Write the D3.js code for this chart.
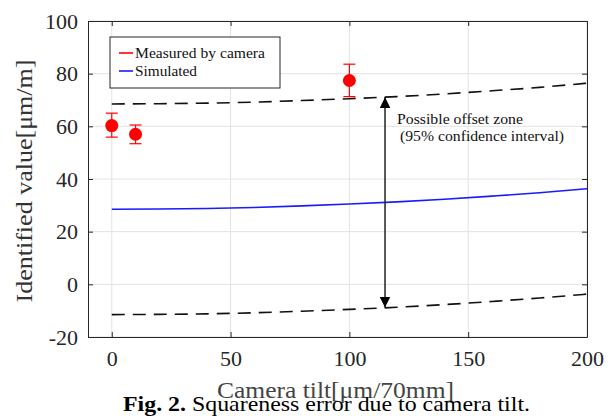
<!DOCTYPE html>
<html>
<head>
<meta charset="utf-8">
<script src="https://d3js.org/d3.v7.min.js"></script>
<style>
  body { margin: 0; background: #fff; }
  svg text { font-family: "Liberation Serif", "Times New Roman", Times, "DejaVu Serif", serif !important; }
</style>
</head>
<body>
<div id="chart"></div>
<script>
// measured points (camera)
var measTilt = [0, 10, 100];
var measVal = [60.3, 57.0, 77.4];
var measLo = [55.9, 53.4, 71.3];
var measHi = [65.0, 60.5, 83.6];

// simulated curve and 95% bounds
var simTilt = [0, 20, 40, 60, 80, 100, 120, 140, 160, 180, 200];
var simVal = [28.5, 28.6, 28.8, 29.2, 29.8, 30.5, 31.3, 32.3, 33.5, 34.8, 36.3];
var upperVal = [68.5, 68.6, 68.8, 69.2, 69.8, 70.5, 71.3, 72.3, 73.5, 74.8, 76.4];
var lowerVal = [-11.5, -11.4, -11.2, -10.8, -10.2, -9.5, -8.7, -7.7, -6.5, -5.2, -3.7];

var xTicks = [0, 50, 100, 150, 200];
var yTicks = [-20, 0, 20, 40, 60, 80, 100];

var arrowTilt = 115;
var arrowTop = 71.0, arrowBottom = -8.8;

var W = 614, H = 416;
var margin = {top: 21, right: 27, bottom: 79, left: 88};
var width = W - margin.left - margin.right,
    height = H - margin.top - margin.bottom;

var svg = d3.select("#chart").append("svg")
    .attr("width", W).attr("height", H);

var defs = svg.append("defs");
defs.append("marker").attr("id", "ah")
    .attr("viewBox", "0 0 10 10").attr("refX", 10).attr("refY", 5)
    .attr("markerWidth", 11).attr("markerHeight", 11)
    .attr("markerUnits", "userSpaceOnUse")
    .attr("orient", "auto-start-reverse")
  .append("path").attr("d", "M0,0L10,5L0,10Z").attr("fill", "#000");

var g = svg.append("g")
    .attr("transform", "translate(" + margin.left + "," + margin.top + ")");

var x = d3.scaleLinear().domain([-10, 200]).range([0, width]);
var y = d3.scaleLinear().domain([-20, 100]).range([height, 0]);

// grid
g.append("g").selectAll("line").data(xTicks).enter().append("line")
    .attr("x1", d => x(d)).attr("x2", d => x(d))
    .attr("y1", 0).attr("y2", height)
    .attr("stroke", "#e3e3e3").attr("stroke-width", 1);
g.append("g").selectAll("line").data(yTicks).enter().append("line")
    .attr("x1", 0).attr("x2", width)
    .attr("y1", d => y(d)).attr("y2", d => y(d))
    .attr("stroke", "#e3e3e3").attr("stroke-width", 1);

// axes (ticks inward, box)
var fmt = d => String(d);
function styleAxis(sel) {
    sel.attr("font-family", null);
    sel.select(".domain").attr("stroke", "#262626");
    sel.selectAll(".tick line").attr("stroke", "#262626");
    sel.selectAll(".tick text")
        .attr("fill", "#262626")
        .style("font-size", "22px");
}
var xAxis = g.append("g").attr("transform", "translate(0," + height + ")")
    .call(d3.axisBottom(x).tickValues(xTicks).tickFormat(fmt).tickSizeInner(-5).tickSizeOuter(0).tickPadding(13));
styleAxis(xAxis);
var yAxis = g.append("g")
    .call(d3.axisLeft(y).tickValues(yTicks).tickFormat(fmt).tickSizeInner(-5).tickSizeOuter(0).tickPadding(10));
styleAxis(yAxis);
var xTop = g.append("g")
    .call(d3.axisTop(x).tickValues(xTicks).tickSizeInner(-5).tickSizeOuter(0).tickFormat(""));
styleAxis(xTop);
var yRight = g.append("g").attr("transform", "translate(" + width + ",0)")
    .call(d3.axisRight(y).tickValues(yTicks).tickSizeInner(-5).tickSizeOuter(0).tickFormat(""));
styleAxis(yRight);

// lines
var line = d3.line().x(d => x(d[0])).y(d => y(d[1])).curve(d3.curveMonotoneX);
g.append("path").datum(simTilt.map((t, i) => [t, upperVal[i]]))
    .attr("d", line).attr("fill", "none").attr("stroke", "#111")
    .attr("stroke-width", 1.6).attr("stroke-dasharray", "13,8");
g.append("path").datum(simTilt.map((t, i) => [t, lowerVal[i]]))
    .attr("d", line).attr("fill", "none").attr("stroke", "#111")
    .attr("stroke-width", 1.6).attr("stroke-dasharray", "13,8");
g.append("path").datum(simTilt.map((t, i) => [t, simVal[i]]))
    .attr("d", line).attr("fill", "none").attr("stroke", "#1a1aff")
    .attr("stroke-width", 1.6);

// measured points with error bars
var pts = measTilt.map((t, i) => ({t: t, v: measVal[i], lo: measLo[i], hi: measHi[i]}));
var pg = g.append("g").selectAll("g").data(pts).enter().append("g");
pg.append("line").attr("x1", d => x(d.t)).attr("x2", d => x(d.t))
    .attr("y1", d => y(d.lo)).attr("y2", d => y(d.hi))
    .attr("stroke", "#ff0000").attr("stroke-width", 1.2);
pg.append("line").attr("x1", d => x(d.t) - 6).attr("x2", d => x(d.t) + 6)
    .attr("y1", d => y(d.lo)).attr("y2", d => y(d.lo))
    .attr("stroke", "#ff0000").attr("stroke-width", 1.2);
pg.append("line").attr("x1", d => x(d.t) - 6).attr("x2", d => x(d.t) + 6)
    .attr("y1", d => y(d.hi)).attr("y2", d => y(d.hi))
    .attr("stroke", "#ff0000").attr("stroke-width", 1.2);
pg.append("circle").attr("cx", d => x(d.t)).attr("cy", d => y(d.v))
    .attr("r", 6.5).attr("fill", "#ff0000");

// double arrow
g.append("line")
    .attr("x1", x(arrowTilt)).attr("x2", x(arrowTilt))
    .attr("y1", y(arrowTop)).attr("y2", y(arrowBottom))
    .attr("stroke", "#222").attr("stroke-width", 1.5)
    .attr("marker-start", "url(#ah)").attr("marker-end", "url(#ah)");
g.append("text").attr("fill", "#111").style("font-size", "15px")
    .attr("x", x(arrowTilt) + 12).attr("y", 103)
    .attr("textLength", 126).attr("lengthAdjust", "spacingAndGlyphs")
    .text("Possible offset zone");
g.append("text").attr("fill", "#111").style("font-size", "15px")
    .attr("x", x(arrowTilt) + 15).attr("y", 120)
    .attr("textLength", 164).attr("lengthAdjust", "spacingAndGlyphs")
    .text("(95% confidence interval)");

// legend
var lg = g.append("g").attr("transform", "translate(22,16)");
lg.append("rect").attr("width", 170).attr("height", 51)
    .attr("fill", "#fff").attr("stroke", "#262626").attr("stroke-width", 1);
var legItems = [["Measured by camera", "#ff0000", 130], ["Simulated", "#1a1aff", 62]];
legItems.forEach(function (it, i) {
    var yy = 16 + i * 18;
    lg.append("line").attr("x1", 9).attr("x2", 23).attr("y1", yy).attr("y2", yy)
        .attr("stroke", it[1]).attr("stroke-width", 1.6);
    lg.append("text").attr("x", 25).attr("y", yy + 4.5)
        .attr("fill", "#111").style("font-size", "15px")
        .attr("textLength", it[2]).attr("lengthAdjust", "spacingAndGlyphs")
        .text(it[0]);
});

// axis titles
svg.append("text")
    .attr("transform", "translate(32,181) rotate(-90)")
    .attr("x", -121.5)
    .attr("fill", "#333")
    .attr("textLength", 243).attr("lengthAdjust", "spacingAndGlyphs")
    .style("font-size", "23px").text("Identified value[\u03bcm/m]");
svg.append("text")
    .attr("x", 217).attr("y", 398)
    .attr("fill", "#444")
    .attr("textLength", 237).attr("lengthAdjust", "spacingAndGlyphs")
    .style("font-size", "23px").text("Camera tilt[\u03bcm/70mm]");

// caption
var cap = svg.append("text").attr("x", 123).attr("y", 411)
    .attr("fill", "#000").style("font-size", "22px")
    .attr("textLength", 407).attr("lengthAdjust", "spacingAndGlyphs");
cap.append("tspan").style("font-weight", "bold").text("Fig. 2.");
cap.append("tspan").text(" Squareness error due to camera tilt.");
</script>
</body>
</html>
